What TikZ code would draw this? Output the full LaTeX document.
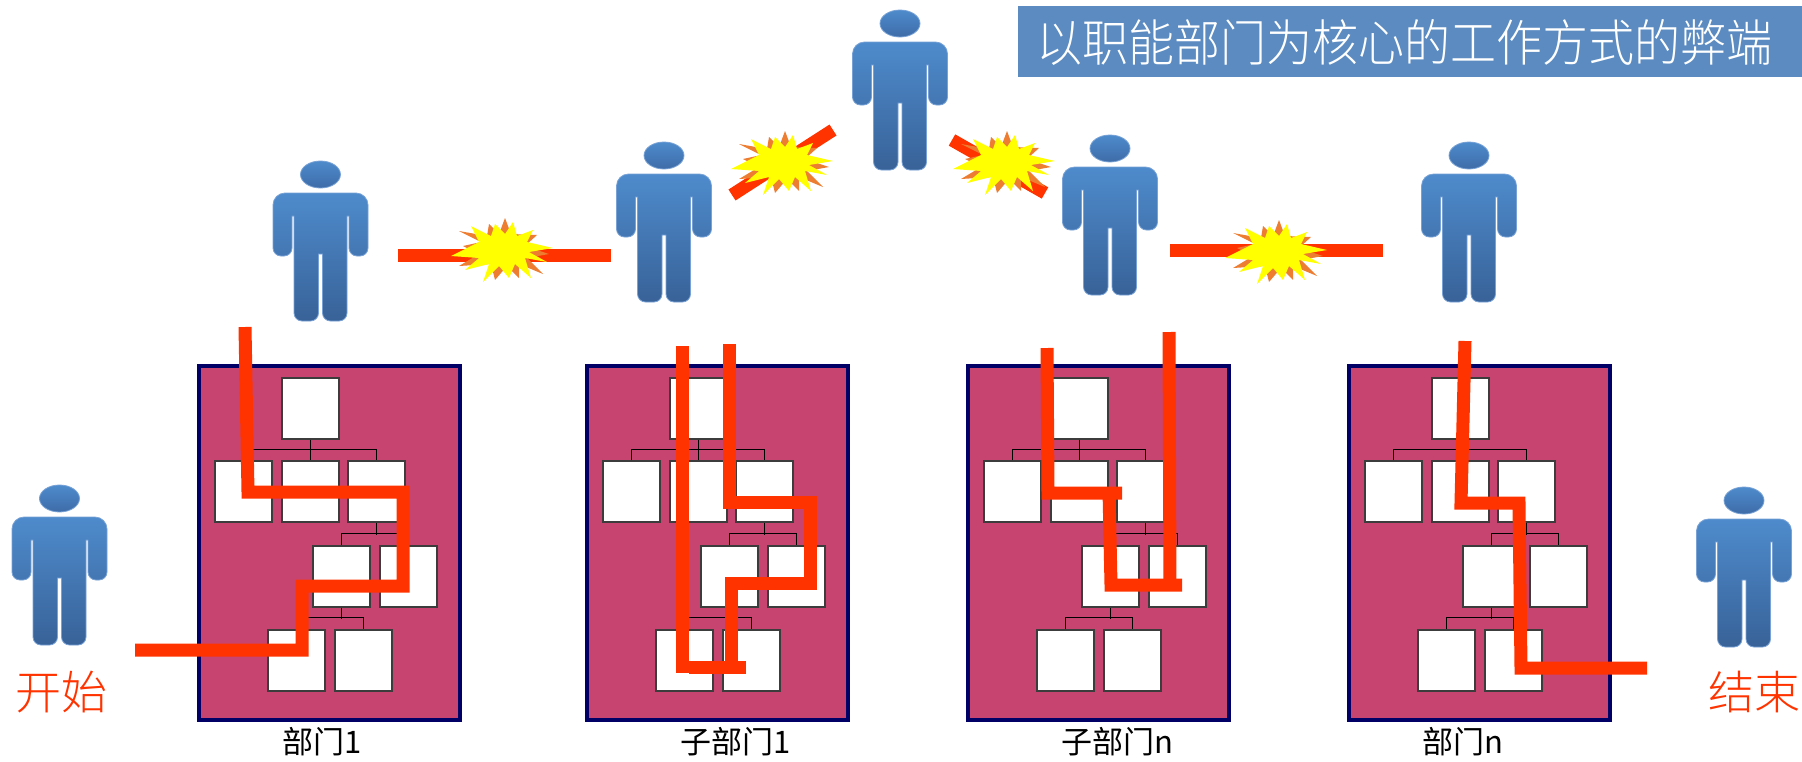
\documentclass[tikz,border=0pt]{standalone}
\usepackage{fontspec}
\usepackage{graphicx}
\newfontfamily\cjk{Noto Sans CJK SC}
\newfontfamily\cjklight{Noto Sans CJK SC Light}

\definecolor{deptpink}{RGB}{200,68,112}
\definecolor{deptnavy}{RGB}{0,0,102}
\definecolor{orgedge}{RGB}{60,60,60}
\definecolor{flowred}{RGB}{255,51,0}
\definecolor{burstorange}{RGB}{237,125,49}
\definecolor{burstyellow}{RGB}{255,255,0}
\definecolor{titleblue}{RGB}{91,139,193}
\definecolor{personlight}{RGB}{78,139,204}
\definecolor{persondark}{RGB}{56,98,152}
\definecolor{personhead}{RGB}{62,108,168}
\definecolor{personedge}{RGB}{120,162,214}

\tikzset{
  deptbox/.style={draw=deptnavy, line width=3.5pt, fill=deptpink,
    minimum width=261pt, minimum height=354pt, inner sep=0pt},
  orgbox/.style={draw=orgedge, line width=1.2pt, fill=white,
    minimum width=57pt, minimum height=61pt, inner sep=0pt},
  orgline/.style={draw=black, line width=1.1pt},
  flow/.style={draw=flowred, line width=13pt, line join=miter},
  clash/.style={draw=flowred, line width=13pt},
  deptlabel/.style={font=\cjk\fontsize{31pt}{31pt}\selectfont, text=black, inner sep=0pt},
  endlabel/.style={font=\cjklight\fontsize{46pt}{46pt}\selectfont, text=flowred, inner sep=0pt},
  % a standing figure; origin = centre of the shoulder line
  person/.pic={
    \shade[top color=personlight, bottom color=persondark, draw=personedge, line width=0.8pt]
      (-47.5,12) arc[start angle=180,end angle=270,radius=12] -- (35.5,0)
      arc[start angle=270,end angle=360,radius=12] -- (47.5,55)
      arc[start angle=0,end angle=90,radius=8] -- (36.5,63)
      arc[start angle=90,end angle=180,radius=8] -- (28.5,23) -- (26.5,23) -- (26.5,120)
      arc[start angle=0,end angle=90,radius=8] -- (10,128)
      arc[start angle=90,end angle=180,radius=8] -- (2,61) -- (-2,61) -- (-2,120)
      arc[start angle=0,end angle=90,radius=8] -- (-18.5,128)
      arc[start angle=90,end angle=180,radius=8] -- (-26.5,23) -- (-28.5,23) -- (-28.5,55)
      arc[start angle=0,end angle=90,radius=8] -- (-39.5,63)
      arc[start angle=90,end angle=180,radius=8] -- cycle;
    \shade[top color=personlight, bottom color=personhead, draw=personedge, line width=0.8pt]
      (0,-18.5) ellipse[x radius=20, y radius=13.5];
  },
  % a clash burst: orange star behind a yellow one
  burst/.pic={
    \fill[burstorange] (2,-32) -- (8,-16) -- (34,-15) -- (22,-4) -- (46,4) -- (24,8)
      -- (40,24) -- (16,14) -- (16,28) -- (4,16) -- (-8,30) -- (-12,14) -- (-44,16)
      -- (-24,4) -- (-40,-4) -- (-22,-8) -- (-44,-19) -- (-16,-14) -- (-14,-26)
      -- (-4,-16) -- cycle;
    \fill[burstyellow] (50,-2) -- (24,-8) -- (30,-20) -- (14,-14) -- (10,-28) -- (2,-16)
      -- (-8,-26) -- (-12,-14) -- (-32,-24) -- (-24,-8) -- (-52,6) -- (-24,8)
      -- (-38,20) -- (-14,14) -- (-20,32) -- (-4,16) -- (6,28) -- (12,14) -- (28,28)
      -- (22,8) -- (44,12) -- (26,2) -- cycle;
  },
  % a department with its organisation chart; origin = top left corner
  dept/.pic={
    \node[deptbox, anchor=north west] (-box) at (0,0) {};
    \node[orgbox] (-t) at (113.5,44.5) {};
    \node[orgbox] (-a) at (46.5,127.5) {};
    \node[orgbox] (-b) at (113.5,127.5) {};
    \node[orgbox] (-c) at (179.5,127.5) {};
    \node[orgbox] (-d) at (144.5,212.5) {};
    \node[orgbox] (-e) at (211.5,212.5) {};
    \node[orgbox] (-f) at (99.5,296.5) {};
    \node[orgbox] (-g) at (166.5,296.5) {};
    \draw[orgline] (-t.south) -- (-b.north);
    \draw[orgline] (-a.north) -- ++(0,-11) -| (-c.north);
    \draw[orgline] (-c.south) -- ++(0,12);
    \draw[orgline] (-d.north) -- ++(0,-12) -| (-e.north);
    \draw[orgline] (-d.south) -- ++(0,11.5);
    \draw[orgline] (-f.north) -- ++(0,-11.5) -| (-g.north);
  }
}

\begin{document}
\begin{tikzpicture}[x=1pt,y=-1pt]
\useasboundingbox (0,0) rectangle (1802,761);

% title banner
\fill[titleblue] (1018,6) rectangle (1802,77);
\node[text=white, font=\cjklight\fontsize{50pt}{50pt}\selectfont, inner sep=0pt] (title)
  at (1404,42) {\scalebox{0.92}[1]{以职能部门为核心的工作方式的弊端}};

% departments
\pic (d1) at (197,364) {dept};
\pic (d2) at (585,364) {dept};
\pic (d3) at (966,364) {dept};
\pic (d4) at (1347,364) {dept};

\node[deptlabel] (lab1) at (322,742) {部门1};
\node[deptlabel] (lab2) at (736,742) {子部门1};
\node[deptlabel] (lab3) at (1117,742) {子部门n};
\node[deptlabel] (lab4) at (1463,742) {部门n};

% work flow through the departments
\draw[flow] (135,650) -- (302,650) -- (302,586) -- (403,586) -- (403,492) -- (248,492) -- (245,327);
\draw[flow] (682,346) -- (682,673);
\draw[flow] (729,344) -- (729,502) -- (810,502) -- (810,583) -- (731,583) -- (731,667);
\draw[flow] (689,667) -- (746,667);
\draw[flow] (1047,348) -- (1048,493) -- (1122,493);
\draw[flow] (1109,490) -- (1111,585) -- (1182,585);
\draw[flow] (1169,332) -- (1170,588);
\draw[flow] (1465,341) -- (1461,503) -- (1519,503) -- (1521,668) -- (1647,668);

% people
\pic (start person) at (59.5,517) {person};
\pic (p1) at (320.5,193) {person};
\pic (p2) at (664,174) {person};
\pic (p3) at (900,42) {person};
\pic (p4) at (1110,167) {person};
\pic (p5) at (1469,174) {person};
\pic (end person) at (1744,519) {person};

\node[endlabel] (start) at (62,692) {开始};
\node[endlabel] (end) at (1754,692) {结束};

% clashes between neighbouring people
\draw[clash] (398,255) -- (611,255);
\pic (c1) at (503,250) {burst};
\draw[clash] (732,195) -- (833,130);
\pic (c2) at (783,163) {burst};
\draw[clash] (952,140) -- (1045,193);
\pic (c3) at (1005,163) {burst};
\draw[clash] (1170,250) -- (1383,250);
\pic (c4) at (1277,252) {burst};
\end{tikzpicture}
\end{document}
